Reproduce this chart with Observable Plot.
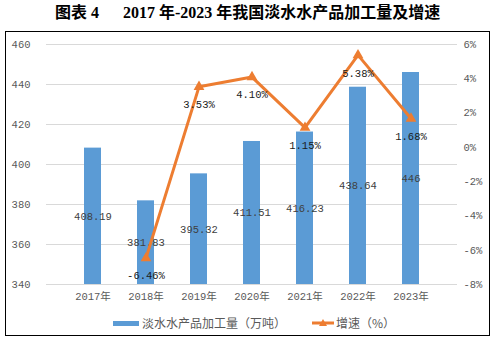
<!DOCTYPE html>
<html><head><meta charset="utf-8">
<script src="https://cdn.jsdelivr.net/npm/d3@7"></script>
<script src="https://cdn.jsdelivr.net/npm/@observablehq/plot@0.6"></script>
<style>
body{margin:0;background:#fff;width:497px;height:343px;position:relative;overflow:hidden;}
.t{position:absolute;top:3px;font:bold 16px "Liberation Serif","Noto Sans CJK SC",serif;color:#000;white-space:pre;line-height:20px}
#frame{position:absolute;left:5px;top:31px;width:485px;height:305px;border:1px solid #000;box-sizing:border-box}
#chart{position:absolute;left:0;top:30px}
.lg{position:absolute;font:12px "Noto Sans CJK SC",sans-serif;color:#595959;line-height:16px;top:315px;white-space:pre}
</style></head><body>
<div class="t" style="left:55px">图表 4</div>
<div class="t" style="left:123px">2017 年-2023 年我国淡水水产品加工量及增速</div>
<div id="frame"></div>
<div id="chart"></div>
<div style="position:absolute;left:113px;top:321px;width:26px;height:5px;background:#5B9BD5"></div>
<div class="lg" style="left:142px">淡水水产品加工量（万吨）</div>
<svg style="position:absolute;left:311px;top:317px" width="24" height="12"><line x1="1" y1="6" x2="23" y2="6" stroke="#ED7D31" stroke-width="3"/><path d="M12,2 L16,9 L8,9 Z" fill="#ED7D31"/></svg>
<div class="lg" style="left:336px">增速（%）</div>
<script>
const years = ["2017年","2018年","2019年","2020年","2021年","2022年","2023年"];
const output = [408.19,381.83,395.32,411.51,416.23,438.64,446];
const outputLabels = ["408.19","381.83","395.32","411.51","416.23","438.64","446"];
const growthYears = ["2018年","2019年","2020年","2021年","2022年","2023年"];
const growth = [-6.46,3.53,4.10,1.15,5.38,1.68];
const growthLabels = ["-6.46%","3.53%","4.10%","1.15%","5.38%","1.68%"];
const leftTicks = [340,360,380,400,420,440,460];
const rightTicks = [-8,-6,-4,-2,0,2,4,6];

const yMin = 340, yMax = 460, pMin = -8, pMax = 6;
const toY = p => yMin + (p - pMin) * (yMax - yMin) / (pMax - pMin);

const bars = years.map((y,i)=>({year:y, value:output[i], label:outputLabels[i]}));
const rows = growthYears.map((y,i)=>({year:y, g:growth[i], label:growthLabels[i]}));

const font = '"Liberation Mono","Noto Sans CJK SC",monospace';
const chart = Plot.plot({
  width: 497, height: 280,
  marginLeft: 46, marginRight: 40, marginTop: 14, marginBottom: 26,
  style: {fontFamily: font, fontSize: "10.5px", background: "transparent"},
  x: {domain: years, padding: 0.68},
  y: {domain: [yMin, yMax]},
  marks: [
    Plot.ruleY(leftTicks, {stroke: "#d9d9d9", strokeWidth: 1}),
    Plot.axisY({ticks: leftTicks, tickSize: 0, tickPadding: 16, fill: "#595959", label: null}),
    Plot.axisY(rightTicks.map(toY), {anchor: "right", tickSize: 0, tickPadding: 6, fill: "#595959", label: null,
      tickFormat: v => Math.round((v - yMin) * (pMax - pMin) / (yMax - yMin) + pMin) + "%"}),
    Plot.axisX({tickSize: 0, tickPadding: 8, fill: "#595959", label: null}),
    Plot.barY(bars, {x: "year", y1: yMin, y2: "value", fill: "#5B9BD5"}),
    Plot.text(bars, {x: "year", y: d => (yMin + d.value) / 2, text: "label", fill: "#404040"}),
    Plot.line(rows, {x: "year", y: d => toY(d.g), stroke: "#ED7D31", strokeWidth: 3}),
    Plot.dot(rows, {x: "year", y: d => toY(d.g), symbol: "triangle", r: 4, fill: "#ED7D31"}),
    Plot.text(rows, {x: "year", y: d => toY(d.g), text: "label", dy: 18, fill: "#1a1a1a"})
  ]
});
document.getElementById("chart").appendChild(chart);
</script>
</body></html>
